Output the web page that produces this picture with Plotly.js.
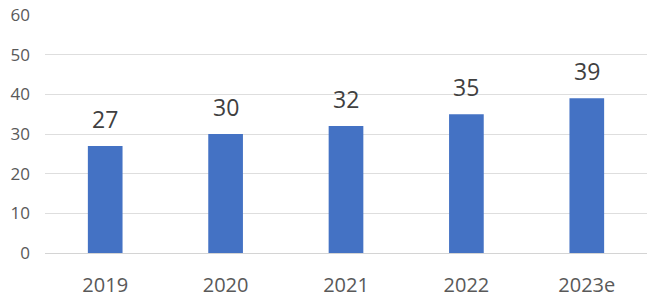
<!DOCTYPE html>
<html><head><meta charset="utf-8">
<script src="https://cdn.plot.ly/plotly-3.0.1.min.js"></script>
<style>html,body{margin:0;padding:0;background:#fff}#c{width:650px;height:298px}</style>
</head><body><div id="c"></div>
<script>
const categories = ["2019", "2020", "2021", "2022", "2023e"];
const values = [27, 30, 32, 35, 39];
const yTicks = [0, 10, 20, 30, 40, 50, 60];

const font = "Open Sans, Noto Sans, sans-serif";
const trace = {
  type: "bar", x: categories, y: values,
  marker: {color: "#4472C4"},
  hoverinfo: "none"
};
const annotations = categories.map((c, i) => ({
  x: i, y: values[i], xref: "x", yref: "y", text: String(values[i]),
  showarrow: false, yanchor: "bottom", yshift: 9,
  font: {family: font, size: 23, color: "#404040"}
}));
Plotly.newPlot("c", [trace], {
  width: 650, height: 298,
  margin: {l: 45, r: 3, t: 15, b: 45},
  paper_bgcolor: "#fff", plot_bgcolor: "#fff",
  bargap: 0.712,
  showlegend: false,
  xaxis: {type: "category", range: [-0.5, categories.length - 0.5],
    showgrid: false, zeroline: false, showline: false,
    ticks: "", ticklabelstandoff: 18,
    tickfont: {family: font, size: 20, color: "#595959"}},
  yaxis: {range: [0, 60], tickvals: yTicks, ticktext: yTicks.map(String),
    showgrid: true, gridcolor: "#dedede", gridwidth: 1,
    zeroline: true, zerolinecolor: "#d4d4d4", zerolinewidth: 1, showline: false,
    ticks: "", ticklabelstandoff: 14,
    tickfont: {family: font, size: 17, color: "#595959"}},
  annotations: annotations
}, {staticPlot: true});
</script></body></html>
